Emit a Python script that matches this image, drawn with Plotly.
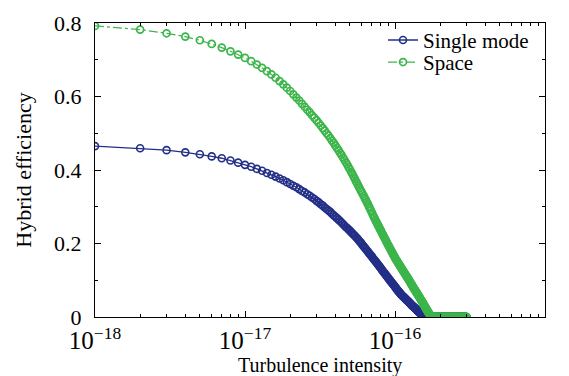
import plotly.graph_objects as go

# sample index k = 1..300; turbulence intensity = k * 1e-18
sample_k = list(range(1, 301))
unit = 1e-18

single_mode = [
    0.465, 0.459, 0.454, 0.448, 0.443, 0.437, 0.432, 0.426, 0.420, 0.414,
    0.409, 0.403, 0.398, 0.392, 0.387, 0.382, 0.377, 0.372, 0.367, 0.362,
    0.357, 0.353, 0.348, 0.343, 0.339, 0.334, 0.330, 0.325, 0.321, 0.316,
    0.312, 0.307, 0.303, 0.298, 0.294, 0.290, 0.286, 0.281, 0.277, 0.273,
    0.269, 0.265, 0.261, 0.257, 0.253, 0.249, 0.245, 0.242, 0.238, 0.235,
    0.231, 0.228, 0.224, 0.221, 0.217, 0.214, 0.210, 0.206, 0.203, 0.199,
    0.195, 0.192, 0.188, 0.185, 0.181, 0.178, 0.174, 0.171, 0.168, 0.165,
    0.161, 0.158, 0.155, 0.152, 0.149, 0.146, 0.143, 0.140, 0.137, 0.134,
    0.131, 0.128, 0.125, 0.122, 0.120, 0.117, 0.114, 0.112, 0.109, 0.106,
    0.104, 0.101, 0.099, 0.096, 0.094, 0.092, 0.089, 0.087, 0.085, 0.082,
    0.080, 0.078, 0.075, 0.073, 0.071, 0.069, 0.067, 0.065, 0.063, 0.061,
    0.059, 0.058, 0.056, 0.055, 0.053, 0.052, 0.050, 0.049, 0.047, 0.046,
    0.044, 0.043, 0.042, 0.040, 0.039, 0.037, 0.036, 0.034, 0.033, 0.031,
    0.030, 0.029, 0.028, 0.027, 0.025, 0.024, 0.023, 0.022, 0.020, 0.019,
    0.018, 0.016, 0.015, 0.014, 0.013, 0.012, 0.011, 0.010, 0.009, 0.008,
    0.008, 0.007, 0.006, 0.005, 0.005, 0.004, 0.003, 0.003, 0.002, 0.002,
    0.002, 0.001, 0.001, 0.001, 0.001, 0.000, 0.000, 0.000, 0.000, 0.000,
    0.000, 0.000, 0.000, 0.000, 0.000, 0.000, 0.000, 0.000, 0.000, 0.000,
    0.000, 0.000, 0.000, 0.000, 0.000, 0.000, 0.000, 0.000, 0.000, 0.000,
    0.000, 0.000, 0.000, 0.000, 0.000, 0.000, 0.000, 0.000, 0.000, 0.000,
    0.000, 0.000, 0.000, 0.000, 0.000, 0.000, 0.000, 0.000, 0.000, 0.000,
    0.000, 0.000, 0.000, 0.000, 0.000, 0.000, 0.000, 0.000, 0.000, 0.000,
    0.000, 0.000, 0.000, 0.000, 0.000, 0.000, 0.000, 0.000, 0.000, 0.000,
    0.000, 0.000, 0.000, 0.000, 0.000, 0.000, 0.000, 0.000, 0.000, 0.000,
    0.000, 0.000, 0.000, 0.000, 0.000, 0.000, 0.000, 0.000, 0.000, 0.000,
    0.000, 0.000, 0.000, 0.000, 0.000, 0.000, 0.000, 0.000, 0.000, 0.000,
    0.000, 0.000, 0.000, 0.000, 0.000, 0.000, 0.000, 0.000, 0.000, 0.000,
    0.000, 0.000, 0.000, 0.000, 0.000, 0.000, 0.000, 0.000, 0.000, 0.000,
    0.000, 0.000, 0.000, 0.000, 0.000, 0.000, 0.000, 0.000, 0.000, 0.000,
    0.000, 0.000, 0.000, 0.000, 0.000, 0.000, 0.000, 0.000, 0.000, 0.000,
]

space = [
    0.792, 0.782, 0.772, 0.763, 0.753, 0.743, 0.733, 0.723, 0.714, 0.705,
    0.696, 0.687, 0.678, 0.669, 0.660, 0.651, 0.642, 0.633, 0.624, 0.615,
    0.606, 0.597, 0.589, 0.580, 0.572, 0.564, 0.557, 0.549, 0.542, 0.535,
    0.528, 0.521, 0.514, 0.507, 0.500, 0.494, 0.487, 0.480, 0.474, 0.467,
    0.460, 0.454, 0.447, 0.441, 0.434, 0.428, 0.421, 0.415, 0.408, 0.402,
    0.395, 0.389, 0.382, 0.376, 0.369, 0.363, 0.357, 0.351, 0.345, 0.340,
    0.334, 0.329, 0.323, 0.318, 0.312, 0.307, 0.301, 0.296, 0.290, 0.285,
    0.279, 0.274, 0.269, 0.264, 0.259, 0.255, 0.250, 0.246, 0.241, 0.237,
    0.233, 0.228, 0.224, 0.220, 0.216, 0.212, 0.208, 0.204, 0.200, 0.196,
    0.193, 0.189, 0.185, 0.182, 0.178, 0.175, 0.171, 0.168, 0.165, 0.161,
    0.158, 0.155, 0.153, 0.150, 0.147, 0.145, 0.142, 0.139, 0.137, 0.134,
    0.131, 0.129, 0.126, 0.124, 0.121, 0.119, 0.117, 0.114, 0.112, 0.110,
    0.107, 0.105, 0.103, 0.100, 0.098, 0.096, 0.093, 0.091, 0.089, 0.086,
    0.084, 0.082, 0.079, 0.077, 0.075, 0.073, 0.071, 0.069, 0.067, 0.065,
    0.063, 0.061, 0.059, 0.057, 0.055, 0.053, 0.051, 0.049, 0.047, 0.045,
    0.043, 0.041, 0.039, 0.037, 0.035, 0.033, 0.031, 0.029, 0.027, 0.025,
    0.023, 0.021, 0.020, 0.018, 0.016, 0.014, 0.013, 0.011, 0.009, 0.008,
    0.006, 0.005, 0.004, 0.003, 0.002, 0.002, 0.001, 0.001, 0.000, 0.000,
    0.000, 0.000, 0.000, 0.000, 0.000, 0.000, 0.000, 0.000, 0.000, 0.000,
    0.000, 0.000, 0.000, 0.000, 0.000, 0.000, 0.000, 0.000, 0.000, 0.000,
    0.000, 0.000, 0.000, 0.000, 0.000, 0.000, 0.000, 0.000, 0.000, 0.000,
    0.000, 0.000, 0.000, 0.000, 0.000, 0.000, 0.000, 0.000, 0.000, 0.000,
    0.000, 0.000, 0.000, 0.000, 0.000, 0.000, 0.000, 0.000, 0.000, 0.000,
    0.000, 0.000, 0.000, 0.000, 0.000, 0.000, 0.000, 0.000, 0.000, 0.000,
    0.000, 0.000, 0.000, 0.000, 0.000, 0.000, 0.000, 0.000, 0.000, 0.000,
    0.000, 0.000, 0.000, 0.000, 0.000, 0.000, 0.000, 0.000, 0.000, 0.000,
    0.000, 0.000, 0.000, 0.000, 0.000, 0.000, 0.000, 0.000, 0.000, 0.000,
    0.000, 0.000, 0.000, 0.000, 0.000, 0.000, 0.000, 0.000, 0.000, 0.000,
    0.000, 0.000, 0.000, 0.000, 0.000, 0.000, 0.000, 0.000, 0.000, 0.000,
    0.000, 0.000, 0.000, 0.000, 0.000, 0.000, 0.000, 0.000, 0.000, 0.000,
]

intensity = [k * unit for k in sample_k]

BLUE = "#232f87"
GREEN = "#3cb54a"
FONT = "Liberation Serif, Times New Roman, serif"
FS = 22

fig = go.Figure()
fig.add_trace(go.Scatter(
    x=intensity, y=single_mode, name="Single mode", mode="lines+markers",
    line=dict(color=BLUE, width=1.3),
    marker=dict(symbol="circle-open", size=7, color=BLUE, line=dict(width=1.6, color=BLUE)),
    legend="legend",
))
fig.add_trace(go.Scatter(
    x=intensity, y=space, name="Space", mode="lines+markers",
    line=dict(color=GREEN, width=1.2, dash="dashdot"),
    marker=dict(symbol="circle-open", size=7, color=GREEN, line=dict(width=1.7, color=GREEN)),
    legend="legend2",
))

leg_common = dict(xanchor="left", yanchor="middle", bgcolor="rgba(0,0,0,0)",
                  font=dict(family=FONT, size=21, color="black"), itemwidth=30)
fig.update_layout(
    width=569, height=376,
    margin=dict(l=95, r=24, t=23, b=59, autoexpand=False),
    paper_bgcolor="white", plot_bgcolor="white",
    font=dict(family=FONT, size=FS, color="black"),
    showlegend=True,
    legend=dict(x=0.64, y=0.941, **leg_common),
    legend2=dict(x=0.64, y=0.866, **leg_common),
    annotations=[dict(
        text="Turbulence intensity", xref="paper", yref="paper",
        x=0.5, y=-0.164, xanchor="center", yanchor="middle", showarrow=False,
        font=dict(family=FONT, size=20, color="black"),
    )],
)
fig.update_xaxes(
    type="log", range=[-18, -15], dtick=1, exponentformat="power",
    showline=True, linecolor="black", linewidth=1.3, mirror="allticks",
    ticks="inside", ticklen=6, tickcolor="black",
    minor=dict(ticks="inside", ticklen=3, dtick="D1", tickcolor="black", showgrid=False),
    showgrid=False, zeroline=False, automargin=False,
    ticklabelstandoff=2,
    tickfont=dict(family=FONT, size=20),
)
fig.update_yaxes(
    range=[0, 0.8], tickvals=[0, 0.2, 0.4, 0.6, 0.8], ticktext=["0", "0.2", "0.4", "0.6", "0.8"],
    showline=True, linecolor="black", linewidth=1.3, mirror="allticks",
    ticks="inside", ticklen=6, tickcolor="black",
    minor=dict(ticks="inside", ticklen=3, tickvals=[0.1, 0.3, 0.5, 0.7], tickcolor="black", showgrid=False),
    showgrid=False, zeroline=False, automargin=False,
    ticklabelstandoff=8,
    title=dict(text="Hybrid efficiency", standoff=16, font=dict(family=FONT, size=FS)),
    tickfont=dict(family=FONT, size=FS),
)

fig.write_html("out.html")
